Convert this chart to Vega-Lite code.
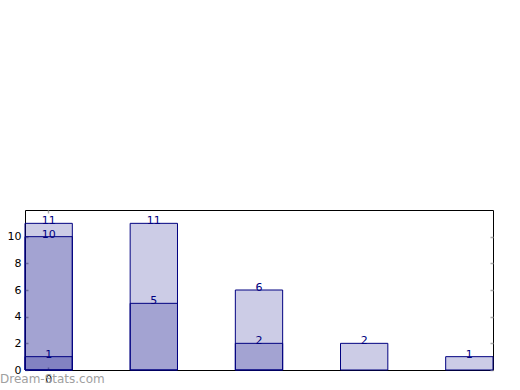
{
  "$schema": "https://vega.github.io/schema/vega-lite/v6.json",
  "width": 468,
  "height": 160,
  "autosize": {"type": "none"},
  "padding": {"left": 25, "top": 210, "right": 27, "bottom": 20},
  "background": "white",
  "config": {
    "view": {"stroke": "#000000", "strokeWidth": 1},
    "font": "DejaVu Sans",
    "axis": {"labelFont": "DejaVu Sans", "labelFontSize": 11, "labelColor": "#000000", "grid": false, "domain": false, "tickColor": "#aaaaaa", "tickSize": -3, "tickWidth": 1.5}
  },
  "title": {"text": "Dream-Stats.com", "orient": "bottom", "anchor": "start", "frame": "group", "dx": -25, "offset": -10, "fontSize": 12, "fontWeight": "normal", "color": "#a0a0a0", "font": "DejaVu Sans"},
  "data": {"values": [
    {"pos": 0, "value": 11},
    {"pos": 1, "value": 11},
    {"pos": 2, "value": 6},
    {"pos": 3, "value": 2},
    {"pos": 4, "value": 1},
    {"pos": 0, "value": 10},
    {"pos": 1, "value": 5},
    {"pos": 2, "value": 2},
    {"pos": 0, "value": 1}
  ]},
  "layer": [
    {"mark": {"type": "bar", "fill": "#000080", "fillOpacity": 0.2, "stroke": "#000080", "strokeWidth": 1, "orient": "vertical"},
      "encoding": {
        "x": {"field": "pos", "type": "ordinal", "sort": null,
          "scale": {"paddingInner": 0.55, "paddingOuter": 0},
          "axis": {"values": [0], "labelAngle": 0, "title": null, "labelPadding": 6}
        },
        "y": {"field": "value", "type": "quantitative", "stack": null, "scale": {"domain": [0, 12], "nice": false},
          "axis": {"values": [0, 2, 4, 6, 8, 10], "title": null, "labelPadding": 7}
        }
      }
    },
    {"mark": {"type": "text", "baseline": "alphabetic", "dy": 1, "color": "#000080", "fontSize": 11, "font": "DejaVu Sans"},
      "encoding": {
        "x": {"field": "pos", "type": "ordinal", "sort": null, "axis": null},
        "y": {"field": "value", "type": "quantitative", "stack": null, "axis": null},
        "text": {"field": "value", "type": "quantitative"}
      }
    },
    {"mark": {"type": "point", "opacity": 0},
      "encoding": {
        "x": {"field": "pos", "type": "ordinal", "sort": null,
          "axis": {"orient": "top", "values": [0], "labels": false, "title": null}},
        "y": {"field": "value", "type": "quantitative", "stack": null,
          "axis": {"orient": "right", "values": [0, 2, 4, 6, 8, 10], "labels": false, "title": null}}
      }
    }
  ],
  "resolve": {"axis": {"x": "independent", "y": "independent"}}
}
